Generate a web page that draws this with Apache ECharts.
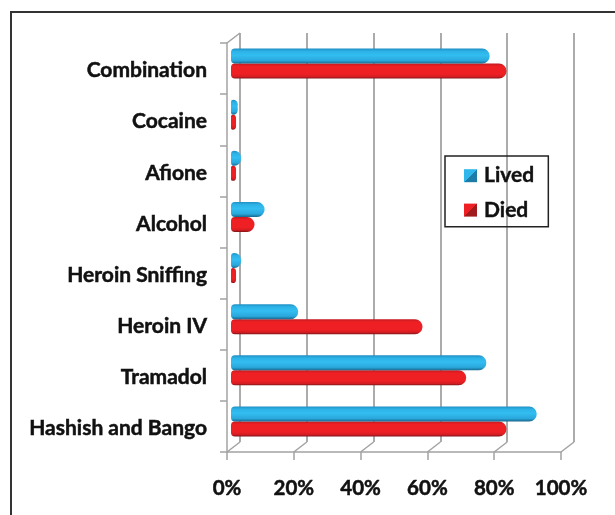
<!DOCTYPE html>
<html><head><meta charset="utf-8">
<style>html,body{margin:0;padding:0;background:#fff}#c{width:615px;height:515px}</style>
<script src="https://cdn.jsdelivr.net/npm/echarts@6/dist/echarts.min.js"></script>
</head><body><div id="c"></div>
<script>
const categories = ['Hashish and Bango','Tramadol','Heroin IV','Heroin Sniffing','Alcohol','Afione','Cocaine','Combination'];
const lived = [91,76,20,3,10,3,2,77];
const died = [82,70,57,1.5,7,1.5,1.5,82];
const valueTicks = [0,20,40,60,80,100];
const L=227,T=43,W=334,H=409,DX=13,DY=10,BX=4,BY=5,LABEL_DY=2;
const axisColor='#a3a3a3', wallColor='#8f8f8f';
const font='Lato';
const vg=(stops)=>({type:'linear',x:0,y:0,x2:0,y2:1,colorStops:stops});
const blue=vg([{offset:0,color:'#1f8fc4'},{offset:.18,color:'#2cb2e6'},{offset:.45,color:'#33bdf0'},{offset:.8,color:'#2aa8dc'},{offset:1,color:'#17698f'}]);
const red=vg([{offset:0,color:'#c21a20'},{offset:.18,color:'#ee2024'},{offset:.7,color:'#ee2024'},{offset:.88,color:'#d31d22'},{offset:1,color:'#7d1518'}]);
const diag=(a,b)=>({type:'linear',x:0,y:0,x2:1,y2:1,colorStops:[{offset:.5,color:a},{offset:.5,color:b}]});
const chart=echarts.init(document.getElementById('c'),null,{renderer:'canvas'});
chart.setOption({
  animation:false,
  backgroundColor:'#fff',
  graphic:[{type:'rect',shape:{x:11,y:12,width:660,height:560},style:{fill:'none',stroke:'#333',lineWidth:2},silent:true}],
  legend:{
    left:445,top:156,orient:'vertical',
    padding:[9,14,6,19],itemGap:13,itemWidth:13,itemHeight:13,
    borderColor:'#222',borderWidth:1.5,backgroundColor:'transparent',
    textStyle:{fontFamily:font,fontWeight:'bold',fontSize:21,color:'#111',padding:[0,0,0,2],textBorderColor:'#111',textBorderWidth:0.4},
    data:[{name:'Lived',icon:'rect',itemStyle:{color:diag('#2fb6ea','#1d7ba8')}},{name:'Died',icon:'rect',itemStyle:{color:diag('#ee2024','#a01a1e')}}]
  },
  grid:[
    {left:L,top:T,width:W,height:H},
    {left:L+BX,top:T-BY,width:W+2,height:H},
    {left:L+DX,top:T-DY,width:W,height:H},
    {left:L,top:T+LABEL_DY,width:W,height:H}
  ],
  xAxis:[
    {gridIndex:0,type:'value',min:0,max:100,interval:20,
      axisLine:{show:true,lineStyle:{color:axisColor,width:1.5}},
      axisTick:{show:true,length:8,lineStyle:{color:axisColor,width:1.5}},
      splitLine:{show:false},
      axisLabel:{show:true,margin:26,fontFamily:font,fontWeight:'bold',fontSize:20.5,color:'#111',textBorderColor:'#111',textBorderWidth:0.5,formatter:'{value}%'}},
    {gridIndex:1,type:'value',min:0,max:100,interval:20,show:false,splitLine:{show:false}},
    {gridIndex:2,type:'value',min:0,max:100,interval:20,
      axisLine:{show:false},axisTick:{show:false},axisLabel:{show:false},
      splitLine:{show:true,lineStyle:{color:wallColor,width:1.5}}},
    {gridIndex:3,type:'value',min:0,max:100,interval:20,show:false,splitLine:{show:false}}
  ],
  yAxis:[
    {gridIndex:0,type:'category',data:categories,
      axisLine:{show:true,onZero:false,lineStyle:{color:axisColor,width:1.5}},
      axisTick:{show:true,length:7,alignWithLabel:false,lineStyle:{color:axisColor,width:1.5}},
      axisLabel:{show:false}},
    {gridIndex:1,type:'category',data:categories,show:false},
    {gridIndex:2,type:'category',data:categories,show:false},
    {gridIndex:3,type:'category',data:categories,
      axisLine:{show:false},axisTick:{show:false},splitLine:{show:false},
      axisLabel:{margin:20,fontFamily:font,fontWeight:'bold',fontSize:21,color:'#111',textBorderColor:'#111',textBorderWidth:0.5,interval:0}}
  ],
  series:[
    {type:'custom',xAxisIndex:0,yAxisIndex:0,silent:true,z:1,clip:false,
      data:valueTicks,
      renderItem:function(params,api){
        const p=api.coord([api.value(0),0]);
        const x=p[0], y=T+H;
        const s={stroke:axisColor,lineWidth:1.5,fill:'none'};
        const kids=[{type:'line',shape:{x1:x,y1:y,x2:x+DX,y2:y-DY},style:s}];
        if(api.value(0)===0) kids.push({type:'line',shape:{x1:x,y1:T,x2:x+DX,y2:T-DY},style:s});
        return {type:'group',children:kids};
      },encode:{x:0}},
    {name:'Lived',type:'bar',xAxisIndex:1,yAxisIndex:1,data:lived,barWidth:15,barGap:'0%',z:3,
      itemStyle:{color:blue,borderRadius:[4,8,8,4]}},
    {name:'Died',type:'bar',xAxisIndex:1,yAxisIndex:1,data:died,barWidth:15,barGap:'0%',z:2,
      itemStyle:{color:red,borderRadius:[4,8,8,4]}}
  ]
});
</script></body></html>
